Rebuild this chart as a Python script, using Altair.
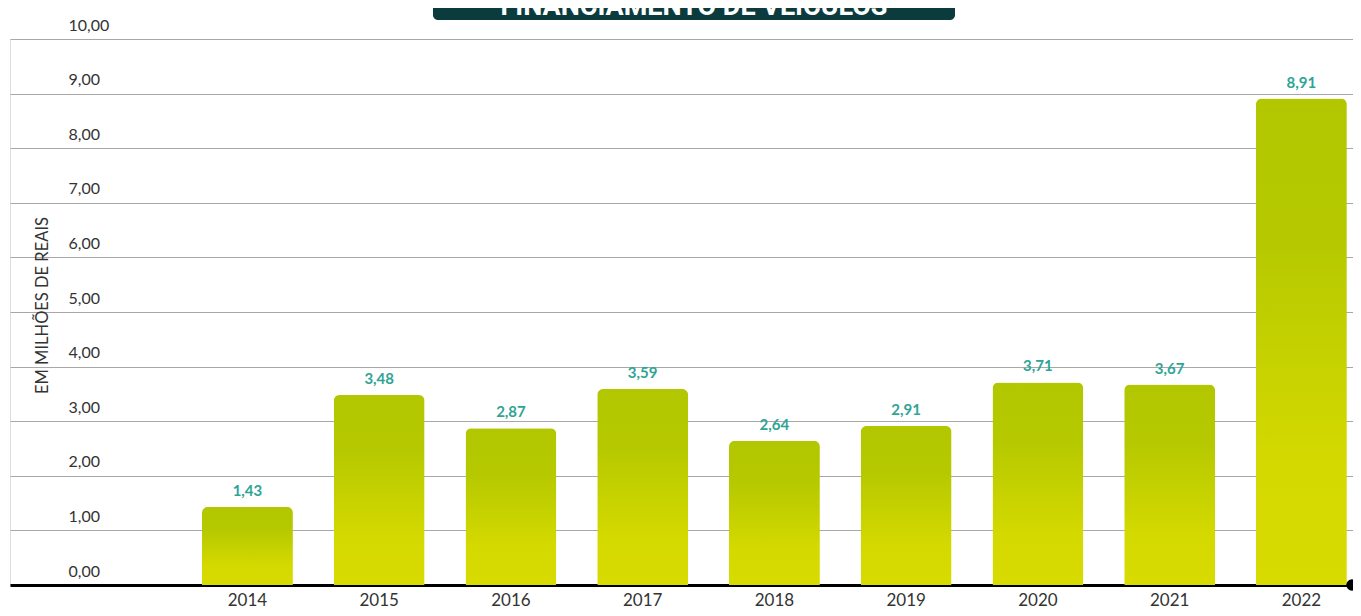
import altair as alt
import pandas as pd

years = ["2014", "2015", "2016", "2017", "2018", "2019", "2020", "2021", "2022"]
values = [1.43, 3.48, 2.87, 3.59, 2.64, 2.91, 3.71, 3.67, 8.91]
y_ticks = [0, 1, 2, 3, 4, 5, 6, 7, 8, 9, 10]
title_text = "FINANCIAMENTO DE VEÍCULOS"
y_title = "EM MILHÕES DE REAIS"

df = pd.DataFrame({"ano": years, "valor": values})

W = 1343
H = 546
FONT = "Lato"

gradient = alt.Gradient(
    gradient="linear",
    stops=[
        alt.GradientStop(color="#b2c700", offset=0),
        alt.GradientStop(color="#b6c900", offset=0.3),
        alt.GradientStop(color="#d4d900", offset=0.75),
        alt.GradientStop(color="#d8db00", offset=1),
    ],
    x1=0, x2=0, y1=0, y2=1,
)

x_enc = alt.X(
    "ano:N",
    sort=years,
    title=None,
    scale=alt.Scale(paddingInner=0.31, paddingOuter=0.752, align=0.969),
    axis=alt.Axis(
        labelAngle=0,
        labelFont=FONT,
        labelFontSize=17,
        labelColor="#333333",
        labelPadding=7,
        ticks=False,
        domain=True,
        domainColor="#000000",
        domainWidth=3,
        grid=False,
    ),
)

y_enc = alt.Y(
    "valor:Q",
    scale=alt.Scale(domain=[0, 10], nice=False),
    axis=alt.Axis(
        values=y_ticks,
        labelExpr="replace(format(datum.value, '.2f'), '.', ',')",
        labelAlign="left",
        labelBaseline="middle",
        labelPadding=-58,
        labelOffset=-14,
        labelFlush=False,
        labelFont=FONT,
        labelFontSize=16,
        labelColor="#333333",
        tickSize=0,
        ticks=False,
        domain=False,
        grid=True,
        gridColor="#a8a8a8",
        gridWidth=1,
        title=y_title,
        titleAngle=270,
        titleX=32,
        titleY=266,
        titleAlign="center",
        titleBaseline="middle",
        titleFont=FONT,
        titleFontSize=16.5,
        titleFontWeight="normal",
        titleColor="#333333",
    ),
)

bars = alt.Chart(df).mark_bar(
    color=gradient,
    cornerRadiusTopLeft=6,
    cornerRadiusTopRight=6,
).encode(x=x_enc, y=y_enc)

labels = alt.Chart(df).transform_calculate(
    rotulo="replace(format(datum.valor, '.2f'), '.', ',')"
).mark_text(
    font=FONT,
    fontSize=15,
    fontWeight="bold",
    color="#2fa495",
    baseline="bottom",
    dy=-8,
).encode(
    x=alt.X("ano:N", sort=years),
    y=alt.Y("valor:Q"),
    text="rotulo:N",
)

dot = alt.Chart(pd.DataFrame({"v": [0]})).mark_circle(
    color="#000000", size=130, opacity=1
).encode(x=alt.value(W - 1), y=alt.Y("v:Q"))

title_box = alt.Chart(pd.DataFrame({"t": [title_text]})).mark_rect(
    color="#0b3b3c", cornerRadius=5
).encode(
    x=alt.value(423), x2=alt.value(945), y=alt.value(-60), y2=alt.value(-19)
)

title_lbl = alt.Chart(pd.DataFrame({"t": [title_text]})).mark_text(
    font="Roboto",
    fontSize=27,
    fontWeight="bold",
    color="#ffffff",
    baseline="alphabetic",
    align="center",
).encode(x=alt.value(684), y=alt.value(-24), text="t:N")

chart = alt.layer(title_box, title_lbl, bars, labels, dot).properties(
    width=W,
    height=H,
    autosize=alt.AutoSizeParams(type="none"),
    padding={"left": 2, "top": 31, "right": 0, "bottom": 23},
).configure_view(stroke=None).configure(background="#ffffff")

chart.save("out.html", embed_options={"renderer": "svg", "actions": False})
